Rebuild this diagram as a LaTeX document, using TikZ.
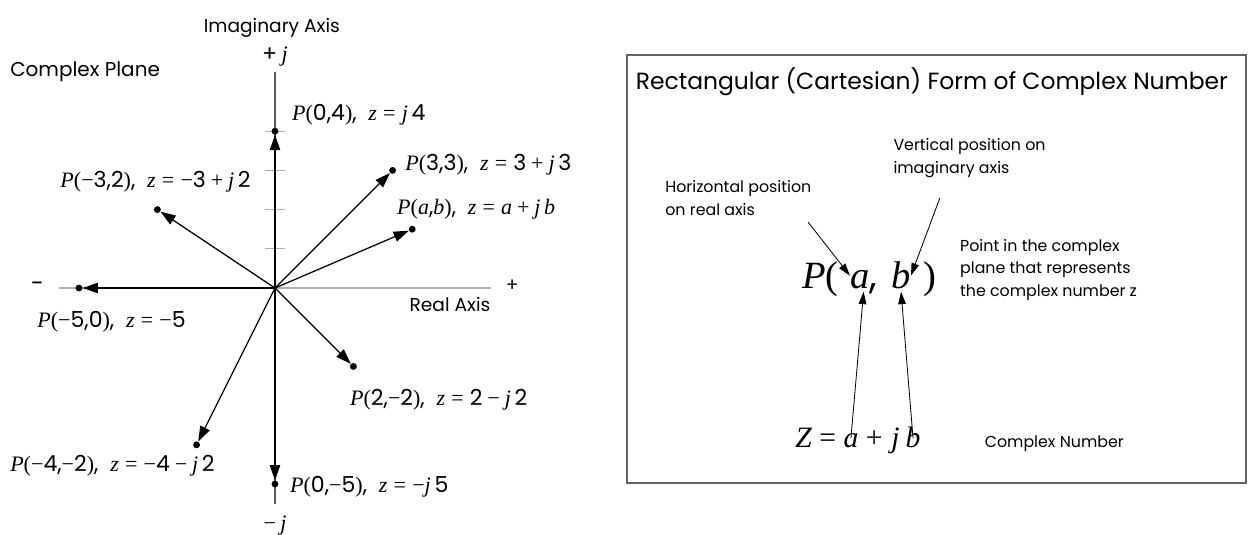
\documentclass[tikz,border=0pt]{standalone}
\usepackage{fontspec}
\setmainfont{Poppins}
\newfontfamily\tms{Liberation Serif}
\usetikzlibrary{arrows.meta,positioning}
\definecolor{axgray}{RGB}{175,175,175}
\definecolor{vaxgray}{RGB}{90,90,90}
\definecolor{framegray}{RGB}{100,100,100}
% pieces of the formulas: serif italic variables, sans digits
\newcommand{\cv}[1]{{\tms\itshape #1}}
\newcommand{\parL}{{\tms(}}
\newcommand{\parR}{{\tms)}}
\newcommand{\cmin}{{\tms −}}
\newcommand{\ceq}{\hspace{0.28em}{\tms =}\hspace{0.28em}}
\newcommand{\cplus}{\hspace{0.22em}{\tms +}\hspace{0.22em}}
\newcommand{\cminus}{\hspace{0.22em}{\tms −}\hspace{0.22em}}
\begin{document}
\begin{tikzpicture}[
  every node/.style={inner sep=0pt},
  haxis/.style={draw=axgray, line width=0.9pt},
  vaxis/.style={draw=vaxgray, line width=0.8pt},
  vec/.style={-{Triangle[length=11pt,width=7.5pt]}, line width=0.9pt},
  dotpt/.style={circle, fill=black, minimum size=5pt, inner sep=0pt},
  lbl/.style={font=\fontsize{16}{18}\selectfont, anchor=west},
  axlbl/.style={font=\fontsize{13.5}{15}\selectfont},
  note/.style={font=\fontsize{11.5}{16.5}\selectfont, align=left, anchor=west},
  big/.style={font=\fontsize{28}{30}\selectfont, text height=0.68em, text depth=0.25em},
  mid/.style={font=\fontsize{21.5}{23}\selectfont, text height=0.68em},
  ptr/.style={-{Triangle[length=9pt,width=5.5pt]}, line width=0.6pt},
  frame/.style={rectangle, draw=framegray, line width=1.3pt}
]
  \useasboundingbox (-7.015,-6.276) rectangle (24.82,7.347);

  % Axes
  \coordinate (O) at (0,0);
  \coordinate (xl) at (-5.5,0);
  \coordinate (xr) at (5.5,0);
  \coordinate (yt) at (0,5.5);
  \coordinate (yb) at (0,-5.5);
  \draw[haxis] (xl) -- (xr);
  \draw[vaxis] (yb) -- (yt);
  \foreach \k in {1,2,3,4}
    \draw[haxis, line width=0.7pt] (-0.25,\k) -- (0.25,\k);

  \node[axlbl] (imax) at (-0.08,6.63) {Imaginary Axis};
  \node[font=\fontsize{16}{18}\selectfont] (pj) at (0,5.9) {+\hspace{0.2em}\cv{j}};
  \node[font=\fontsize{16}{18}\selectfont] (mj) at (0,-6.05) {\cmin\hspace{0.2em}\cv{j}};
  \node[axlbl, font=\fontsize{17}{18}\selectfont] (mx) at (-6.07,0.02) {−};
  \node[axlbl] (px) at (6.05,0.05) {+};
  \node[axlbl, anchor=north east] (reax) at ([yshift=-0.22cm] xr) {Real Axis};
  \node[font=\fontsize{14.5}{16}\selectfont, anchor=west] (cplane) at (-6.76,5.51) {Complex Plane};

  % Points
  \node[dotpt] (p04)   at (0,4) {};
  \node[dotpt] (p33)   at (3,3) {};
  \node[dotpt] (pab)   at (3.5,1.5) {};
  \node[dotpt] (pm32)  at (-3,2) {};
  \node[dotpt] (pm50)  at (-5,0) {};
  \node[dotpt] (p2m2)  at (2,-2) {};
  \node[dotpt] (pm4m2) at (-2,-4) {};
  \node[dotpt] (p0m5)  at (0,-5) {};
  \foreach \p in {p04,p33,pab,pm32,pm50,p2m2,pm4m2,p0m5}
    \draw[vec] (O) -- (\p);

  % Point labels
  \node[lbl] (l04)   at ([xshift=0.43cm, yshift=0.42cm] p04)
    {\cv{P}\parL0,4\parR,\ \ \cv{z}\ceq\cv{j}\,4};
  \node[lbl] (l33)   at ([xshift=0.32cm, yshift=0.14cm] p33)
    {\cv{P}\parL3,3\parR,\ \ \cv{z}\ceq3\cplus\cv{j}\,3};
  \node[lbl] (lab)   at ([xshift=-0.39cm, yshift=0.52cm] pab)
    {\cv{P}\parL\cv{a},\cv{b}\parR,\ \ \cv{z}\ceq\cv{a}\cplus\cv{j}\,\cv{b}};
  \node[lbl] (lm32)  at ([xshift=-2.48cm, yshift=0.72cm] pm32)
    {\cv{P}\parL\cmin3,2\parR,\ \ \cv{z}\ceq\cmin3\cplus\cv{j}\,2};
  \node[lbl] (lm50)  at ([xshift=-1.07cm, yshift=-0.87cm] pm50)
    {\cv{P}\parL\cmin5,0\parR,\ \ \cv{z}\ceq\cmin5};
  \node[lbl] (l2m2)  at ([xshift=-0.09cm, yshift=-0.86cm] p2m2)
    {\cv{P}\parL2,\cmin2\parR,\ \ \cv{z}\ceq2\cminus\cv{j}\,2};
  \node[lbl] (lm4m2) at ([xshift=-4.76cm, yshift=-0.54cm] pm4m2)
    {\cv{P}\parL\cmin4,\cmin2\parR,\ \ \cv{z}\ceq\cmin4\cminus\cv{j}\,2};
  \node[lbl] (l0m5)  at ([xshift=0.38cm, yshift=-0.08cm] p0m5)
    {\cv{P}\parL0,\cmin5\parR,\ \ \cv{z}\ceq\cmin\cv{j}\,5};

  % Rectangular form box
  \node[frame, minimum width=15.79cm, minimum height=10.92cm] (form) at (16.875,0.49) {};
  \node[font=\fontsize{17}{19}\selectfont, anchor=west] (title)
    at ([xshift=0.24cm, yshift=-0.70cm] form.north west)
    {Rectangular (Cartesian) Form of Complex Number};

  \node[note] (vnote) at (15.77,3.32) {Vertical position on\\imaginary axis};
  \node[note] (hnote) at (9.95,2.30) {Horizontal position\\on real axis};
  \node[note] (pnote) at (17.47,0.46) {Point in the complex\\plane that represents\\the complex number z};

  % P( a, b )
  \node[big, anchor=base west] (Pp) at (13.44,0) {\cv{P}\parL};
  \node[big, base right=8pt of Pp] (Pa) {\cv{a},};
  \node[big, base right=10pt of Pa] (Pb) {\cv{b}};
  \node[big, base right=9pt of Pb] (Pr) {\parR};

  % Z = a + j b
  \node[mid, anchor=base west] (Zl) at (13.27,-4.08) {\cv{Z}\hspace{0.25em}{\tms =}};
  \node[mid, base right=0.5em of Zl] (Za) {\cv{a}};
  \node[mid, base right=0.5em of Za] (Zp) {{\tms +}\hspace{0.3em}\cv{j}};
  \node[mid, base right=0.4em of Zp] (Zb) {\cv{b}};
  \node[note, anchor=base west] (cnum) at (18.1,-4.08) {Complex Number};

  \coordinate (ha) at (13.60,1.68);
  \coordinate (va) at (16.96,2.30);
  \draw[ptr] (ha) -- ([yshift=2pt] Pa.north west);
  \draw[ptr] (va) -- ([yshift=2pt] Pb.north east);
  \draw[ptr] (Za.north) -- (Pa.south);
  \draw[ptr] (Zb.north) -- (Pb.south);
\end{tikzpicture}
\end{document}
